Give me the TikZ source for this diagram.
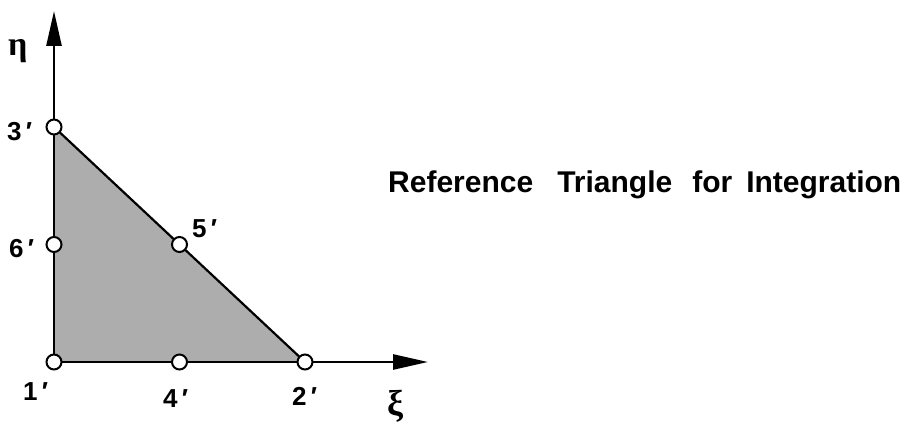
\documentclass[tikz,border=0pt]{standalone}
\usepackage{fontspec}
\setmainfont{Liberation Sans}
\newfontfamily\greekfont{Liberation Serif}
\usetikzlibrary{arrows.meta,calc}
\begin{document}
\begin{tikzpicture}[x=1pt,y=-1pt,
  axis/.style={line width=2.6pt,-{Triangle[length=35pt,width=15pt]}},
  edge/.style={line width=2.2pt},
  nd/.style={circle,draw,line width=2pt,fill=white,minimum size=15pt,inner sep=0pt},
  lbl/.style={font=\fontsize{26}{26}\selectfont\bfseries,inner sep=0pt,anchor=base west},
  gk/.style={font=\greekfont\bfseries,inner sep=0pt,anchor=base west}]
\useasboundingbox (0,0) rectangle (920,425);
\coordinate (o) at (54,362);
\coordinate (xe) at (428,362);
\coordinate (ye) at (54,11);
\coordinate (p2) at (305,362);
\coordinate (p3) at (54,127);
\fill[black!32] (o) -- (p2) -- (p3) -- cycle;
\draw[axis] (o) -- (xe);
\draw[axis] (o) -- (ye);
\draw[edge] (p2) -- (p3);
\node[nd] (n1) at (o) {};
\node[nd] (n2) at (p2) {};
\node[nd] (n3) at (p3) {};
\node[nd] (n4) at ($(o)!0.5!(p2)$) {};
\node[nd] (n5) at ($(p2)!0.5!(p3)$) {};
\node[nd] (n6) at ($(o)!0.5!(p3)$) {};
\node[lbl] (l3) at (7,140) {3\,′};
\node[lbl] (l6) at (9,257) {6\,′};
\node[lbl] (l1) at (23,400) {1\,′};
\node[lbl] (l4) at (163,407) {4\,′};
\node[lbl] (l2) at (292,405) {2\,′};
\node[lbl] (l5) at (192,237) {5\,′};
\node[gk,font=\fontsize{34}{34}\selectfont\greekfont\bfseries] (eta) at (8,56) {η};
\node[gk,font=\fontsize{36}{36}\selectfont\greekfont\bfseries] (xi) at (387,415) {ξ};
\node[font=\fontsize{30}{30}\selectfont\bfseries,inner sep=0pt,anchor=base west] (title) at (388,192) {Reference\hspace{24pt}Triangle\hspace{20pt}for\hspace{14pt}Integration};
\end{tikzpicture}
\end{document}
